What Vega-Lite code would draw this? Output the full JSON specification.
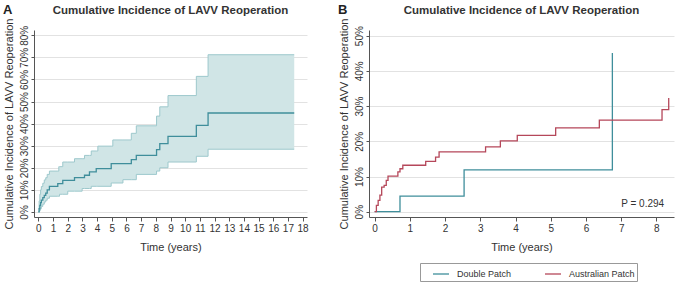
{
  "$schema": "https://vega.github.io/schema/vega-lite/v6.json",
  "padding": {"left": 2, "top": 3, "right": 2, "bottom": 0},
  "config": {
    "font": "Liberation Sans",
    "view": {"stroke": null},
    "axis": {
      "labelColor": "#333",
      "labelFontSize": 10,
      "titleColor": "#333",
      "titleFontSize": 11,
      "titleFontWeight": "normal",
      "domainColor": "#555",
      "tickColor": "#555",
      "gridColor": "#e2e2e2",
      "labelOverlap": false
    },
    "axisY": {"labelOverlap": false},
    "title": {"font": "Liberation Sans", "color": "#333"}
  },
  "datasets": {
    "overall": [
      {"t": 0, "est": 0, "lo": 0, "hi": 0},
      {"t": 0.05, "est": 1.5, "lo": 0.3, "hi": 5},
      {"t": 0.1, "est": 3, "lo": 0.8, "hi": 8},
      {"t": 0.15, "est": 4.2, "lo": 1.5, "hi": 10},
      {"t": 0.2, "est": 5.3, "lo": 2.5, "hi": 11.5},
      {"t": 0.3, "est": 6.5, "lo": 3.5, "hi": 13},
      {"t": 0.4, "est": 7.5, "lo": 4.5, "hi": 14.5},
      {"t": 0.5, "est": 8.5, "lo": 5.3, "hi": 15.5},
      {"t": 0.6, "est": 10, "lo": 6.2, "hi": 17},
      {"t": 0.75, "est": 11.6, "lo": 7.1, "hi": 18.5},
      {"t": 1.32, "est": 12.8, "lo": 7.1, "hi": 18.5},
      {"t": 1.39, "est": 12.8, "lo": 7.1, "hi": 20.5},
      {"t": 1.44, "est": 12.8, "lo": 8, "hi": 20.5},
      {"t": 1.66, "est": 14.3, "lo": 8, "hi": 22.6},
      {"t": 2.0, "est": 14.3, "lo": 9.4, "hi": 22.6},
      {"t": 2.46, "est": 15.5, "lo": 9.4, "hi": 24.1},
      {"t": 2.98, "est": 15.5, "lo": 10.6, "hi": 24.1},
      {"t": 3.14, "est": 16.6, "lo": 10.6, "hi": 25.6},
      {"t": 3.48, "est": 18.1, "lo": 10.6, "hi": 25.6},
      {"t": 3.6, "est": 18.1, "lo": 11.6, "hi": 27.6},
      {"t": 3.94, "est": 19.6, "lo": 11.6, "hi": 27.6},
      {"t": 4.05, "est": 19.6, "lo": 11.6, "hi": 29.8},
      {"t": 4.96, "est": 21.9, "lo": 13.1, "hi": 29.8},
      {"t": 5.07, "est": 21.9, "lo": 13.1, "hi": 32.6},
      {"t": 5.76, "est": 21.9, "lo": 14.6, "hi": 32.6},
      {"t": 6.33, "est": 23.7, "lo": 14.6, "hi": 35.6},
      {"t": 6.67, "est": 25.6, "lo": 17, "hi": 39},
      {"t": 8.05, "est": 28.2, "lo": 18.5, "hi": 43.4},
      {"t": 8.27, "est": 30.9, "lo": 20, "hi": 47.6},
      {"t": 8.83, "est": 34.2, "lo": 22.6, "hi": 52.7},
      {"t": 10.76, "est": 39.2, "lo": 25.2, "hi": 61.4},
      {"t": 11.56, "est": 44.8, "lo": 28.4, "hi": 71.2},
      {"t": 17.43, "est": 44.8, "lo": 28.4, "hi": 71.2}
    ],
    "bygroup": [
      {"group": "Double Patch", "t": 0, "v": 0},
      {"group": "Double Patch", "t": 0.72, "v": 4.4},
      {"group": "Double Patch", "t": 2.54, "v": 11.9},
      {"group": "Double Patch", "t": 6.75, "v": 45.1},
      {"group": "Australian Patch", "t": 0, "v": 0},
      {"group": "Australian Patch", "t": 0.05, "v": 1.8},
      {"group": "Australian Patch", "t": 0.1, "v": 3.2},
      {"group": "Australian Patch", "t": 0.15, "v": 4.7},
      {"group": "Australian Patch", "t": 0.2, "v": 7},
      {"group": "Australian Patch", "t": 0.27, "v": 7.5},
      {"group": "Australian Patch", "t": 0.33, "v": 8.9},
      {"group": "Australian Patch", "t": 0.38, "v": 10.1},
      {"group": "Australian Patch", "t": 0.66, "v": 11.3},
      {"group": "Australian Patch", "t": 0.72, "v": 12.2},
      {"group": "Australian Patch", "t": 0.8, "v": 13.2},
      {"group": "Australian Patch", "t": 1.45, "v": 14.3},
      {"group": "Australian Patch", "t": 1.73, "v": 15.5},
      {"group": "Australian Patch", "t": 1.83, "v": 17},
      {"group": "Australian Patch", "t": 3.15, "v": 18.4},
      {"group": "Australian Patch", "t": 3.57, "v": 20.1},
      {"group": "Australian Patch", "t": 4.05, "v": 21.7},
      {"group": "Australian Patch", "t": 5.14, "v": 23.8},
      {"group": "Australian Patch", "t": 6.38, "v": 26},
      {"group": "Australian Patch", "t": 8.16, "v": 29},
      {"group": "Australian Patch", "t": 8.35, "v": 32.3}
    ],
    "pval": [{"t": 8.22, "v": 2.3, "label": "P = 0.294"}]
  },
  "spacing": 28,
  "resolve": {"legend": {"color": "independent"}, "scale": {"color": "independent"}},
  "hconcat": [
    {
      "title": {"text": "A", "anchor": "start", "frame": "bounds", "fontSize": 13, "fontWeight": "bold", "color": "#222", "offset": -12},
      "vconcat": [
        {
          "width": 273,
          "height": 187,
          "title": {"text": "Cumulative Incidence of LAVV Reoperation", "fontSize": 11.5, "fontWeight": "bold", "anchor": "middle", "offset": 2},
          "data": {"name": "overall"},
          "encoding": {
            "x": {
              "field": "t", "type": "quantitative",
              "scale": {"domain": [-0.3, 18.3], "nice": false, "zero": false},
              "axis": {"title": "Time (years)", "values": [0,1,2,3,4,5,6,7,8,9,10,11,12,13,14,15,16,17,18], "grid": false, "tickSize": 4, "labelPadding": 2, "titlePadding": 8}
            },
            "y": {
              "field": "lo", "type": "quantitative",
              "scale": {"domain": [-2.3, 82.4], "nice": false, "zero": false},
              "axis": {"title": "Cumulative Incidence of LAVV Reoperation", "values": [0,10,20,30,40,50,60,70,80], "labelExpr": "datum.value + '%'", "labelAngle": 270, "labelAlign": "center", "labelBaseline": "bottom", "labelOverlap": false, "tickSize": 3, "labelPadding": 2, "titlePadding": 5, "grid": true}
            }
          },
          "layer": [
            {
              "mark": {"type": "area", "interpolate": "step-after", "color": "#d0e5e6", "opacity": 1},
              "encoding": {"y2": {"field": "hi"}}
            },
            {
              "mark": {"type": "line", "interpolate": "step-after", "color": "#9dc8cc", "strokeWidth": 1},
              "encoding": {}
            },
            {
              "mark": {"type": "line", "interpolate": "step-after", "color": "#9dc8cc", "strokeWidth": 1},
              "encoding": {"y": {"field": "hi", "type": "quantitative"}}
            },
            {
              "mark": {"type": "line", "interpolate": "step-after", "color": "#3f8e9b", "strokeWidth": 1.3},
              "encoding": {"y": {"field": "est", "type": "quantitative"}}
            }
          ]
        }
      ]
    },
    {
      "title": {"text": "B", "anchor": "start", "frame": "bounds", "fontSize": 13, "fontWeight": "bold", "color": "#222", "offset": -12},
      "resolve": {"legend": {"color": "independent"}, "scale": {"color": "independent"}},
      "vconcat": [
        {
          "width": 305,
          "height": 187,
          "title": {"text": "Cumulative Incidence of LAVV Reoperation", "fontSize": 11.5, "fontWeight": "bold", "anchor": "middle", "offset": 2},
          "encoding": {
            "x": {
              "field": "t", "type": "quantitative",
              "scale": {"domain": [-0.16, 8.5], "nice": false, "zero": false},
              "axis": {"title": "Time (years)", "values": [0,1,2,3,4,5,6,7,8], "grid": false, "tickSize": 4, "labelPadding": 2, "titlePadding": 8}
            },
            "y": {
              "field": "v", "type": "quantitative",
              "scale": {"domain": [-1.5, 51.6], "nice": false, "zero": false},
              "axis": {"title": "Cumulative Incidence of LAVV Reoperation", "values": [0,10,20,30,40,50], "labelExpr": "datum.value + '%'", "labelAngle": 270, "labelAlign": "center", "labelBaseline": "bottom", "labelOverlap": false, "tickSize": 3, "labelPadding": 2, "titlePadding": 5, "grid": true}
            }
          },
          "layer": [
            {
              "data": {"name": "bygroup"},
              "mark": {"type": "line", "interpolate": "step-after", "strokeWidth": 1.3},
              "encoding": {
                "color": {
                  "field": "group", "type": "nominal",
                  "scale": {"domain": ["Double Patch", "Australian Patch"], "range": ["#3f8e9b", "#b5475a"]},
                  "legend": {
                    "title": null, "orient": "none", "legendX": 51, "legendY": 233,
                    "direction": "horizontal", "gridAlign": "none", "symbolType": "stroke", "symbolSize": 256, "symbolStrokeWidth": 1.3,
                    "labelFontSize": 9, "labelColor": "#333", "labelOffset": 7, "columnPadding": 22,
                    "strokeColor": "#999", "padding": 2, "symbolOffset": 10
                  }
                }
              }
            },
            {
              "data": {"name": "pval"},
              "mark": {"type": "text", "align": "right", "baseline": "middle", "fontSize": 10, "color": "#333"},
              "encoding": {"text": {"field": "label"}}
            }
          ]
        }
      ]
    }
  ]
}
